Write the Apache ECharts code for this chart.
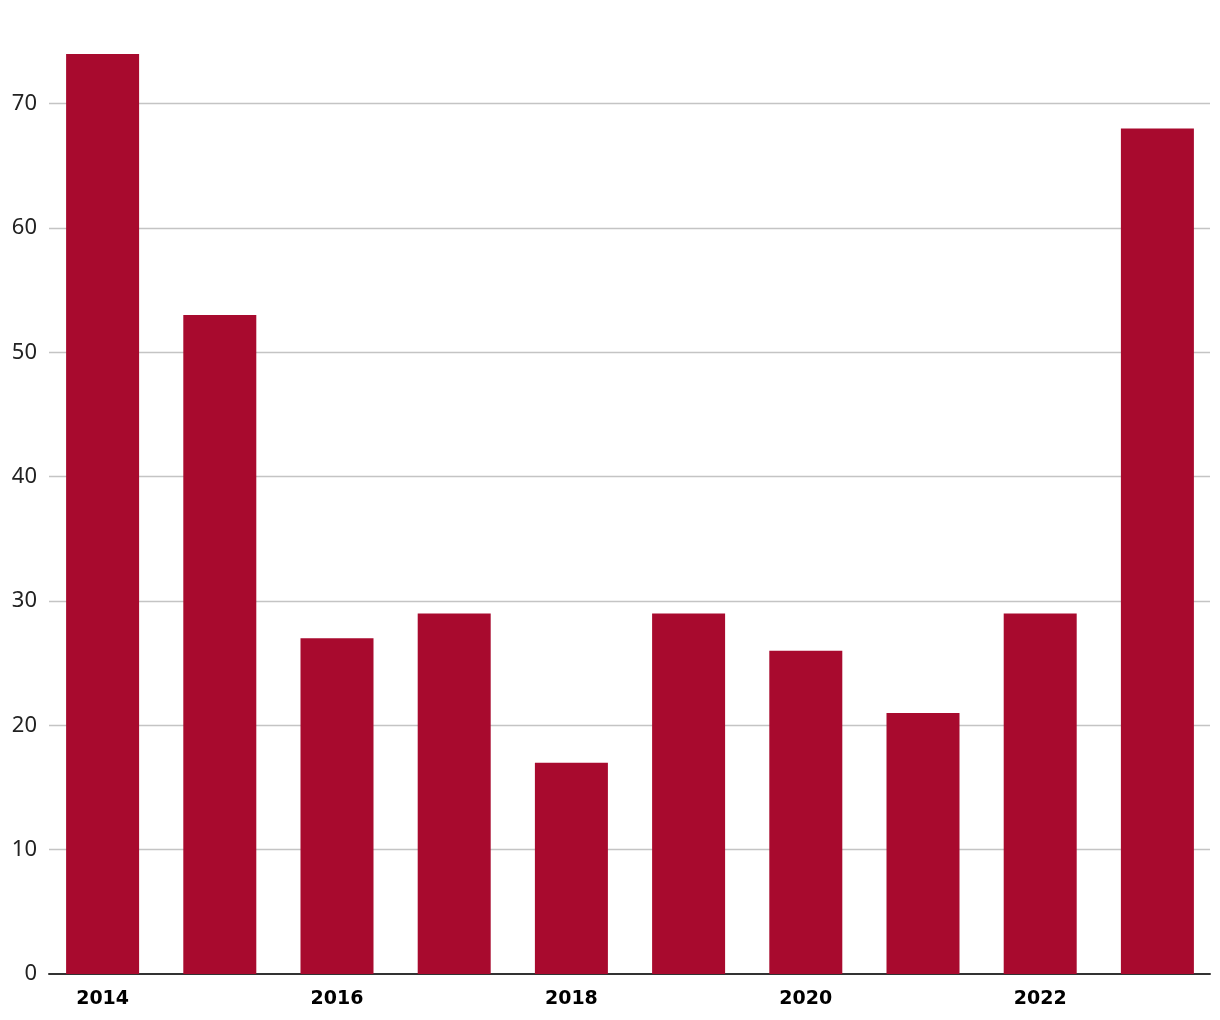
<!DOCTYPE html>
<html>
<head>
<meta charset="utf-8">
<script src="https://cdn.jsdelivr.net/npm/echarts@6/dist/echarts.min.js"></script>
<style>
html,body{margin:0;padding:0;background:#fff;}
#chart{width:1220px;height:1020px;}
</style>
</head>
<body>
<div id="chart"></div>
<script>
var years = ['2014', '2015', '2016', '2017', '2018', '2019', '2020', '2021', '2022', '2023'];
var values = [74, 53, 27, 29, 17, 29, 26, 21, 29, 68];
var yTicks = [0, 10, 20, 30, 40, 50, 60, 70];

var chart = echarts.init(document.getElementById('chart'));

chart.setOption({
  animation: false,
  backgroundColor: '#ffffff',
  grid: [
    { left: 44, right: 4, top: 54, bottom: 46, containLabel: false },
    { left: 49, right: 10, top: 54, bottom: 46, containLabel: false }
  ],
  xAxis: [
    {
      type: 'category',
      gridIndex: 0,
      data: years,
      axisTick: { show: false },
      axisLine: { show: false },
      splitLine: { show: false },
      axisLabel: {
        interval: 1,
        margin: 16,
        color: '#000000',
        fontFamily: '"DejaVu Sans", sans-serif',
        fontWeight: 'bold',
        fontSize: 19
      }
    },
    {
      type: 'category',
      gridIndex: 1,
      data: years,
      axisTick: { show: false },
      axisLabel: { show: false },
      splitLine: { show: false },
      axisLine: { show: true, lineStyle: { color: '#333333', width: 2 } }
    }
  ],
  yAxis: [
    {
      type: 'value',
      gridIndex: 0,
      min: 0,
      max: 74,
      interval: 10,
      show: false,
      splitLine: { show: false }
    },
    {
      type: 'value',
      gridIndex: 1,
      min: 0,
      max: 74,
      interval: 10,
      axisLine: { show: false },
      axisTick: { show: false },
      splitLine: { show: true, showMinLine: false, showMaxLine: false, lineStyle: { color: '#c4c4c4', width: 1.3 } },
      axisLabel: {
        showMaxLabel: false,
        margin: 12,
        color: '#222222',
        fontFamily: '"Noto Sans", "Open Sans", sans-serif',
        fontSize: 22,
        formatter: function (v) { return yTicks.indexOf(v) >= 0 ? String(v) : ''; }
      }
    }
  ],
  series: [{
    type: 'bar',
    xAxisIndex: 0,
    yAxisIndex: 0,
    data: values,
    barWidth: 73,
    z: 3,
    itemStyle: { color: '#a80a2e' }
  }]
});
</script>
</body>
</html>
